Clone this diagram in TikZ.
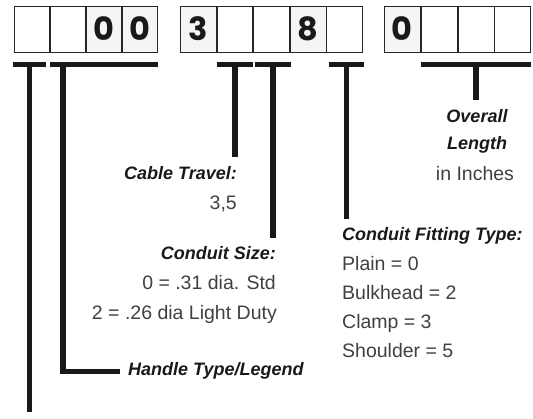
\documentclass[tikz,border=0pt]{standalone}
\usepackage{fontspec}
\setmainfont{Liberation Sans}
\newfontfamily\digitfont{Poppins}
\usetikzlibrary{positioning}

\begin{document}
\begin{tikzpicture}
[x=1pt,y=-1pt
,cell/.style={draw=black!85,line width=0.8pt,minimum height=46pt,inner sep=0pt,anchor=west}
,cellA/.style={cell,minimum width=35.25pt}
,cellB/.style={cell,minimum width=35.8pt}
,cellC/.style={cell,minimum width=36pt}
,dg/.style={fill=black!4,text=black!90,font=\digitfont\bfseries\fontsize{32}{32}\selectfont}
,bar/.style={draw=black!90,line width=5pt}
,stem/.style={bar,line width=5.5pt,shorten >=9pt}
,hd/.style={inner sep=0pt,text=black!90,font=\fontsize{18}{20}\selectfont\bfseries\itshape}
,tx/.style={inner sep=0pt,text=black!75,font=\fontsize{19.5}{22}\selectfont}
]
\useasboundingbox (0,0) rectangle (533,419);
% code boxes
\node[cellA] (c1) at (14,29) {};
\node[cellA,right=0pt of c1] (c2) {};
\node[cellA,dg,right=0pt of c2] (c3) {0};
\node[cellA,dg,right=0pt of c3] (c4) {0};
\node[cellB,dg] (c5) at (180,29) {3};
\node[cellB,right=0pt of c5] (c6) {};
\node[cellB,right=0pt of c6] (c7) {};
\node[cellB,dg,right=0pt of c7] (c8) {8};
\node[cellB,right=0pt of c8] (c9) {};
\node[cellC,dg] (c10) at (384,29) {0};
\node[cellC,right=0pt of c10] (c11) {};
\node[cellC,right=0pt of c11] (c12) {};
\node[cellC,right=0pt of c12] (c13) {};
% brackets
\draw[bar] ([xshift=-1pt,yshift=-12pt]c1.south west) -- coordinate (m1) ([xshift=-4pt,yshift=-12pt]c1.south east);
\draw[bar] ([yshift=-12pt]c2.south west) -- coordinate[pos=.12] (m2) ([yshift=-12pt]c4.south east);
\draw[bar] ([yshift=-12pt]c6.south west) -- coordinate (m3) ([yshift=-12pt]c6.south east);
\draw[bar] ([xshift=1.5pt,yshift=-12pt]c7.south west) -- coordinate (m4) ([xshift=1.5pt,yshift=-12pt]c7.south east);
\draw[bar] ([xshift=3pt,yshift=-12pt]c9.south west) -- coordinate (m5) ([xshift=1pt,yshift=-12pt]c9.south east);
\draw[bar] ([yshift=-12pt]c11.south west) -- coordinate (m6) ([yshift=-12pt]c13.south east);
% labels
\node[hd,anchor=base] (ol1) at (477,123) {Overall};
\node[hd,anchor=base] (ol2) at (477,150) {Length};
\node[tx,anchor=base] (ol3) at (475,181) {in Inches};
\node[hd,anchor=base east] (ct) at (237,180) {Cable Travel:};
\node[tx,anchor=base east] (ctv) at (237,210) {3,5};
\node[hd,anchor=base east] (cs) at (276,260) {Conduit Size:};
\node[tx,anchor=base east] (cs0) at (276,290) {0 = .31 dia. Std};
\node[tx,anchor=base east] (cs2) at (277,320) {2 = .26 dia Light Duty};
\node[hd,anchor=base west] (cf) at (342,241) {Conduit Fitting Type:};
\node[tx,anchor=base west] (cf0) at (342,271) {Plain = 0};
\node[tx,anchor=base west] (cf2) at (342,300) {Bulkhead = 2};
\node[tx,anchor=base west] (cf3) at (342,329) {Clamp = 3};
\node[tx,anchor=base west] (cf5) at (342,358) {Shoulder = 5};
\node[hd,anchor=base west] (hl) at (128,376) {Handle Type/Legend};
\coordinate (e1) at (30,412);
% leaders
\draw[stem,shorten >=0pt] (m1) -- (m1 |- e1);
\draw[stem,shorten >=8pt] (m2) |- (hl.west);
\draw[stem,shorten >=10pt] (m3) -- (m3 |- ct.north);
\draw[stem] (m4) -- (m4 |- cs.north);
\draw[stem] (m5) -- (m5 |- cf.north);
\draw[stem,shorten >=10pt] (m6) -- (m6 |- ol1.north);
\end{tikzpicture}
\end{document}
